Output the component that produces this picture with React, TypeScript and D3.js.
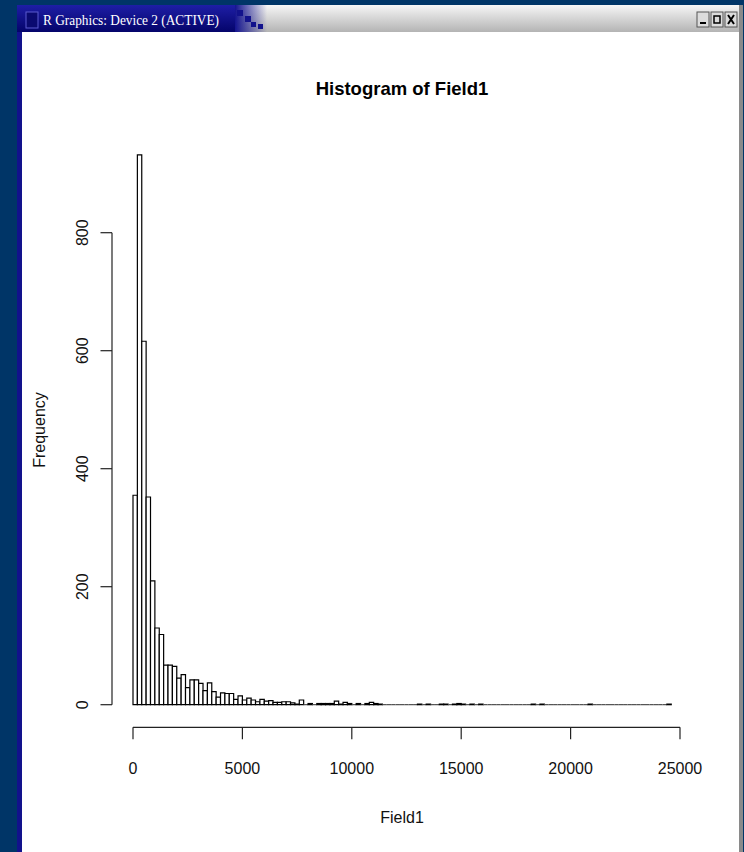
import React from "react";
import * as d3 from "d3";

// Histogram counts, bins of width 200 starting at 0
const counts: number[] = [
  355, 932, 616, 352, 210, 130, 119, 67, 67, 65,
  45, 51, 29, 42, 42, 36, 24, 37, 22, 13,
  20, 19, 19, 9, 15, 8, 11, 8, 5, 9,
  6, 7, 4, 4, 5, 5, 3, 1, 8, 0,
  2, 0, 2, 2, 2, 2, 6, 1, 4, 2,
  0, 2, 0, 2, 4, 2, 1, 0, 0, 0,
  0, 0, 0, 0, 0, 1, 0, 1, 0, 0,
  1, 1, 0, 1, 2, 1, 0, 1, 0, 1,
  0, 0, 0, 0, 0, 0, 0, 0, 0, 0,
  0, 1, 0, 1, 0, 0, 0, 0, 0, 0,
  0, 0, 0, 0, 1, 0, 0, 0, 0, 0,
  0, 0, 0, 0, 0, 0, 0, 0, 0, 0,
  0, 0, 1,
];
const binWidth = 200;
const xTicks: number[] = [0, 5000, 10000, 15000, 20000, 25000];
const yTicks: number[] = [0, 200, 400, 600, 800];
const titleText = "Histogram of Field1";
const xLabel = "Field1";
const yLabel = "Frequency";
const windowTitle = "R Graphics: Device 2 (ACTIVE)";

export default function App() {
  const x = d3.scaleLinear().domain([0, 25000]).range([133, 680]);
  const y = d3.scaleLinear().domain([0, 800]).range([704.7, 232.7]);
  const font = "'Liberation Sans', Arial, Helvetica, sans-serif";
  const xAxisY = 727.3;
  const yAxisX = 112;

  return (
    <div style={{ position: "fixed", left: 0, top: 0 }}>
      <svg width={744} height={852} style={{ display: "block" }}>
        <defs>
          <linearGradient id="tbGray" x1="0" y1="0" x2="0" y2="1">
            <stop offset="0" stopColor="#f6f6f6" />
            <stop offset="1" stopColor="#b4b4b4" />
          </linearGradient>
          <linearGradient id="tbBlue" x1="0" y1="0" x2="0" y2="1">
            <stop offset="0" stopColor="#1e1ea6" />
            <stop offset="1" stopColor="#04046a" />
          </linearGradient>
          <linearGradient id="tbFade" x1="0" y1="0" x2="1" y2="0">
            <stop offset="0" stopColor="#141490" />
            <stop offset="1" stopColor="#141490" stopOpacity="0" />
          </linearGradient>
        </defs>
        {/* desktop background */}
        <rect x={0} y={0} width={744} height={852} fill="#003567" />
        {/* window frame */}
        <rect x={17} y={5} width={726} height={847} fill="#c8c8c8" />
        <rect x={17} y={5} width={5} height={847} fill="#12128c" />
        <rect x={739} y={5} width={4} height={847} fill="#8a8a8a" />
        {/* title bar */}
        <rect x={22} y={5} width={717} height={27} fill="url(#tbGray)" />
        <rect x={17} y={5} width={218} height={27} fill="url(#tbBlue)" />
        <rect x={235} y={5} width={32} height={27} fill="url(#tbFade)" />
        <rect x={237} y={10} width={6} height={6} fill="#12128c" />
        <rect x={245} y={16} width={6} height={6} fill="#12128c" />
        <rect x={251} y={22} width={5} height={5} fill="#12128c" />
        <rect x={258} y={24} width={5} height={5} fill="#12128c" />
        <rect x={26} y={12} width={12} height={16} fill="#0a0a70" stroke="#5a5ad0" strokeWidth={1} />
        <text x={43} y={25} fill="#ffffff" fontFamily="'Liberation Serif', 'DejaVu Serif', serif" fontSize={14} textLength={176} lengthAdjust="spacingAndGlyphs">
          {windowTitle}
        </text>
        {/* window buttons */}
        {[697, 711, 725].map((bx, i) => (
          <rect key={i} x={bx} y={12} width={12} height={15} fill="#dcdcdc" stroke="#555" strokeWidth={1} />
        ))}
        <rect x={700} y={22} width={6} height={2} fill="#000" />
        <rect x={714} y={16} width={6} height={7} fill="none" stroke="#000" strokeWidth={1.5} />
        <path d="M728,15 L734,24 M734,15 L728,24" stroke="#000" strokeWidth={2} />
        {/* plot device area */}
        <rect x={22} y={32} width={717} height={820} fill="#ffffff" />

        {/* bars (paths so that empty bins still show as a baseline segment) */}
        {counts.map((c, i) => {
          const x0 = x(i * binWidth);
          const x1 = x((i + 1) * binWidth);
          const y0 = y(0);
          const y1 = y(c);
          return (
            <path
              key={i}
              d={`M${x0},${y0}H${x1}V${y1}H${x0}Z`}
              fill="#ffffff"
              stroke={c === 0 ? "#555" : "#000"}
              strokeWidth={1.2}
            />
          );
        })}

        {/* x axis */}
        <line x1={x(xTicks[0])} x2={x(xTicks[xTicks.length - 1])} y1={xAxisY} y2={xAxisY} stroke="#222" strokeWidth={1.2} />
        {xTicks.map((t) => (
          <g key={t}>
            <line x1={x(t)} x2={x(t)} y1={xAxisY} y2={xAxisY + 12} stroke="#222" strokeWidth={1.2} />
            <text x={x(t)} y={774} textAnchor="middle" fontFamily={font} fontSize={16} fill="#111">
              {t}
            </text>
          </g>
        ))}

        {/* y axis */}
        <line x1={yAxisX} x2={yAxisX} y1={y(yTicks[0])} y2={y(yTicks[yTicks.length - 1])} stroke="#222" strokeWidth={1.2} />
        {yTicks.map((t) => (
          <g key={t}>
            <line x1={yAxisX} x2={yAxisX - 11.5} y1={y(t)} y2={y(t)} stroke="#222" strokeWidth={1.2} />
            <text
              transform={`translate(88,${y(t)}) rotate(-90)`}
              textAnchor="middle"
              fontFamily={font}
              fontSize={16}
              fill="#111"
            >
              {t}
            </text>
          </g>
        ))}

        {/* titles */}
        <text x={402} y={95} textAnchor="middle" fontFamily={font} fontSize={18.5} fontWeight="bold" fill="#000">
          {titleText}
        </text>
        <text x={402} y={823} textAnchor="middle" fontFamily={font} fontSize={16} fill="#111">
          {xLabel}
        </text>
        <text transform="translate(45,430) rotate(-90)" textAnchor="middle" fontFamily={font} fontSize={16} fill="#111">
          {yLabel}
        </text>
      </svg>
    </div>
  );
}
